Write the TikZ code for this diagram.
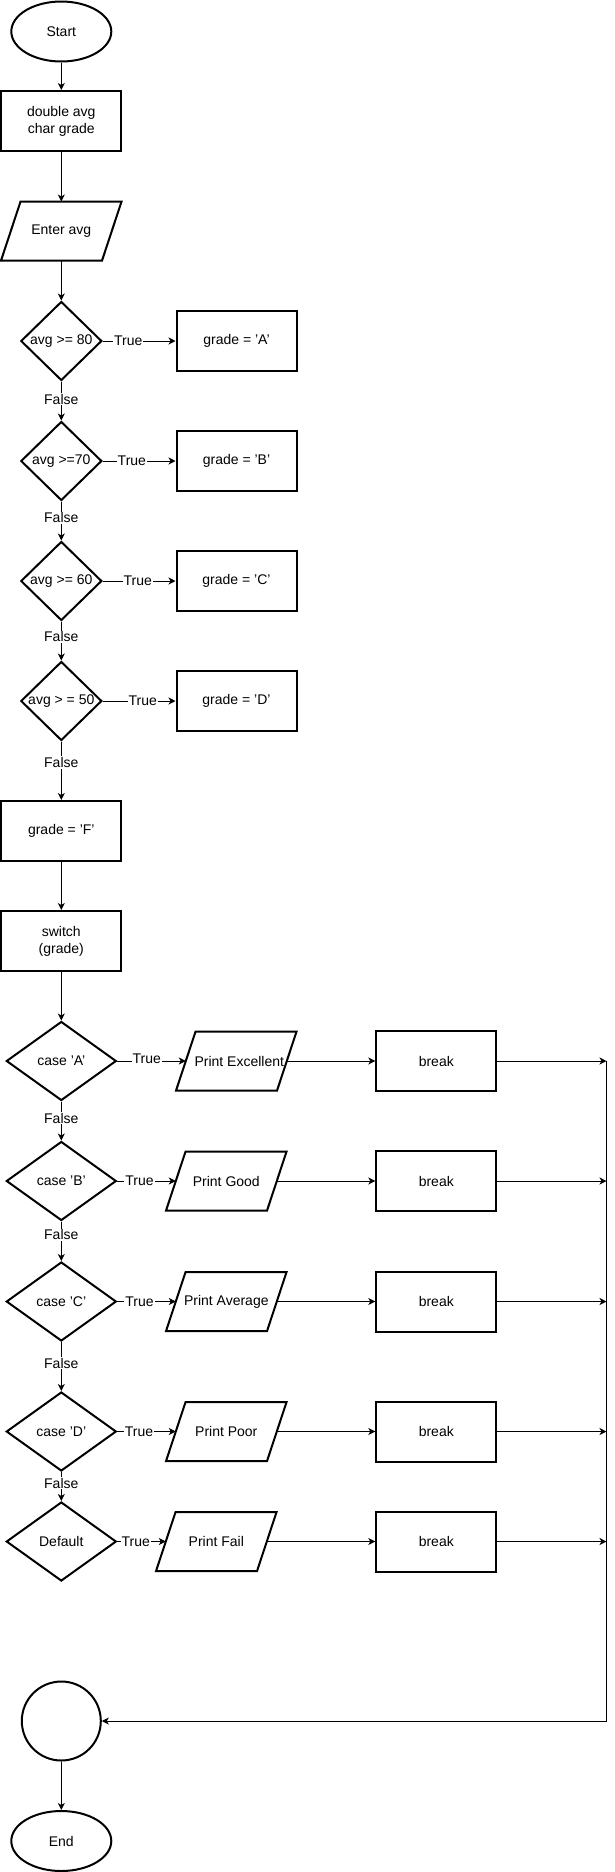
\documentclass[tikz,border=0pt]{standalone}
\usepackage{fontspec}
\setmainfont{Liberation Sans}
\usetikzlibrary{shapes.geometric,arrows.meta}
\tikzset{
  txt/.style={font=\fontsize{14}{16.8}\selectfont},
  base/.style={txt, draw=black, line width=2pt, align=center, inner sep=0pt},
  term/.style={base, ellipse, minimum width=100pt, minimum height=60pt},
  proc/.style={base, rectangle, minimum width=120pt, minimum height=60pt},
  io/.style={txt, rectangle, draw=none, inner sep=0pt, outer sep=0pt,
    minimum width=101pt, minimum height=59pt,
    append after command={\pgfextra{\draw[line width=2pt, line join=miter]
      ([xshift=9.75pt]\tikzlastnode.north west) -- ([xshift=9.75pt]\tikzlastnode.north east)
      -- ([xshift=-9.75pt]\tikzlastnode.south east) -- ([xshift=-9.75pt]\tikzlastnode.south west)
      -- cycle;}}},
  dec/.style={base, diamond, minimum width=81pt, minimum height=79pt},
  casedec/.style={dec, minimum width=110pt},
  conn/.style={base, circle, minimum size=79pt},
  arr/.style={line width=1pt, -{Stealth[length=7pt,width=7pt,inset=2pt]}},
  plain/.style={line width=1pt},
  lbl/.style={txt, fill=white, inner sep=1pt},
}
\begin{document}
\begin{tikzpicture}[x=1pt,y=-1pt]
\useasboundingbox (0,0) rectangle (615,1872);
% main column
\node[term] (start) at (61.3,31.5) {Start};
\node[proc] (decl) at (61.3,121) {double avg\\char grade};
\node[io] (inp) at (61.3,231) {\makebox[0pt]{Enter avg}};
\node[dec] (d1) at (61.3,341) {\makebox[0pt]{avg >= 80}};
\node[dec] (d2) at (61.3,461) {\makebox[0pt]{avg >=70}};
\node[dec] (d3) at (61.3,581) {\makebox[0pt]{avg >= 60}};
\node[dec] (d4) at (61.3,701) {\makebox[0pt]{avg > = 50}};
\node[proc] (ga) at (236.5,341) {grade = 'A'};
\node[proc] (gb) at (236.5,461) {grade = 'B'};
\node[proc] (gc) at (236.5,581) {grade = 'C'};
\node[proc] (gd) at (236.5,701) {grade = 'D'};
\node[proc] (gf) at (61.3,831) {grade = 'F'};
\node[proc] (sw) at (61.3,941) {switch\\(grade)};
% switch cases
\node[casedec] (ca) at (61.3,1061) {\makebox[0pt]{case 'A'}};
\node[casedec] (cb) at (61.3,1181) {\makebox[0pt]{case 'B'}};
\node[casedec] (cc) at (61.3,1301.5) {\makebox[0pt]{case 'C'}};
\node[casedec] (cd) at (61.3,1431.5) {\makebox[0pt]{case 'D'}};
\node[casedec] (ce) at (61.3,1541.5) {\makebox[0pt]{Default}};
\node[io] (pa) at (236.3,1061) {\makebox[0pt]{\hspace{6pt}Print Excellent}};
\node[io] (pb) at (226.3,1181) {\makebox[0pt]{Print Good}};
\node[io] (pc) at (226.3,1301.5) {\makebox[0pt]{Print Average}};
\node[io] (pd) at (226.3,1431.5) {\makebox[0pt]{Print Poor}};
\node[io] (pe) at (216.3,1541.5) {\makebox[0pt]{Print Fail}};
\node[proc] (ba) at (436.3,1061) {break};
\node[proc] (bb) at (436.3,1181) {break};
\node[proc] (bc) at (436.3,1301.5) {break};
\node[proc] (bd) at (436.3,1431.5) {break};
\node[proc] (be) at (436.3,1541.5) {break};
\coordinate (ja) at (606.5,1061);
\coordinate (jb) at (606.5,1181);
\coordinate (jc) at (606.5,1301.5);
\coordinate (jd) at (606.5,1431.5);
\coordinate (je) at (606.5,1541.5);
\coordinate (jz) at (606.5,1721);
\node[conn] (cn) at (61.3,1721) {};
\node[term] (end) at (61.3,1841) {End};
% connectors: main chain
\draw[arr] (start) -- (decl);
\draw[arr] (decl) -- (inp);
\draw[arr] (inp) -- (d1);
\draw[arr] (d1) -- node[lbl,pos=.45]{False} (d2);
\draw[arr] (d2) -- node[lbl,pos=.42]{False} (d3);
\draw[arr] (d3) -- node[lbl,pos=.39]{False} (d4);
\draw[arr] (d4) -- node[lbl,pos=.36]{False} (gf);
\draw[arr] (d1) -- node[lbl,pos=.35]{True} (ga);
\draw[arr] (d2) -- node[lbl,pos=.40]{True} (gb);
\draw[arr] (d3) -- node[lbl,pos=.48]{True} (gc);
\draw[arr] (d4) -- node[lbl,pos=.55]{True} (gd);
\draw[arr] (gf) -- (sw);
\draw[arr] (sw) -- (ca);
% case chain
\draw[arr] (ca) -- node[lbl,pos=.43]{False} (cb);
\draw[arr] (cb) -- node[lbl,pos=.34]{False} (cc);
\draw[arr] (cc) -- node[lbl,pos=.43]{False} (cd);
\draw[arr] (cd) -- node[lbl,pos=.38]{False} (ce);
\draw[arr] (ca) -- node[lbl,pos=.43,yshift=2pt]{True} (pa);
\draw[arr] (cb) -- node[lbl,pos=.38]{True} (pb);
\draw[arr] (cc) -- node[lbl,pos=.38]{True} (pc);
\draw[arr] (cd) -- node[lbl,pos=.37]{True} (pd);
\draw[arr] (ce) -- node[lbl,pos=.38]{True} (pe);
\draw[arr] (pa) -- (ba);
\draw[arr] (pb) -- (bb);
\draw[arr] (pc) -- (bc);
\draw[arr] (pd) -- (bd);
\draw[arr] (pe) -- (be);
\draw[arr] (ba) -- (ja);
\draw[arr] (bb) -- (jb);
\draw[arr] (bc) -- (jc);
\draw[arr] (bd) -- (jd);
\draw[arr] (be) -- (je);
\draw[arr] (ja) -- (jz) -- (cn);
\draw[arr] (cn) -- (end);
\end{tikzpicture}
\end{document}
